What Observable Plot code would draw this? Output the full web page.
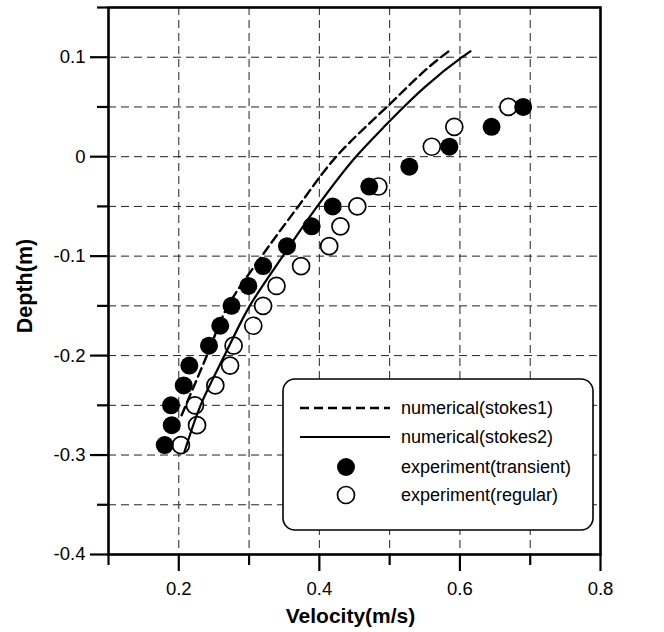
<!DOCTYPE html>
<html>
<head>
<meta charset="utf-8">
<script src="https://cdn.jsdelivr.net/npm/d3@7"></script>
<script src="https://cdn.jsdelivr.net/npm/@observablehq/plot@0.6"></script>
<style>
  html, body { margin: 0; padding: 0; background: white; }
  #chart { width: 664px; height: 632px; }
</style>
</head>
<body>
<div id="chart"></div>
<script>
// ---- data ----
const transientVelocity = [0.69, 0.645, 0.585, 0.528, 0.471, 0.419, 0.389, 0.354, 0.32, 0.299, 0.275, 0.259, 0.243, 0.215, 0.207, 0.189, 0.19, 0.18];
const transientDepth    = [0.05, 0.03, 0.01, -0.01, -0.03, -0.05, -0.07, -0.09, -0.11, -0.13, -0.15, -0.17, -0.19, -0.21, -0.23, -0.25, -0.27, -0.29];

const regularVelocity = [0.669, 0.592, 0.56, 0.484, 0.454, 0.43, 0.414, 0.374, 0.339, 0.32, 0.306, 0.278, 0.273, 0.252, 0.223, 0.226, 0.203];
const regularDepth    = [0.05, 0.03, 0.01, -0.03, -0.05, -0.07, -0.09, -0.11, -0.13, -0.15, -0.17, -0.19, -0.21, -0.23, -0.25, -0.27, -0.29];

const stokes1Velocity = [0.204, 0.210, 0.240, 0.270, 0.318, 0.370, 0.424, 0.496, 0.573, 0.586];
const stokes1Depth    = [-0.26, -0.25, -0.20, -0.15, -0.10, -0.05, 0.00, 0.05, 0.10, 0.107];

const stokes2Velocity = [0.208, 0.231, 0.265, 0.301, 0.348, 0.397, 0.452, 0.492, 0.520, 0.550, 0.603, 0.615];
const stokes2Depth    = [-0.297, -0.25, -0.20, -0.15, -0.10, -0.05, 0.00, 0.03, 0.05, 0.07, 0.10, 0.106];

const xMajorTicks = [0.2, 0.4, 0.6, 0.8];
const xMinorTicks = [0.1, 0.3, 0.5, 0.7];
const xGrid = [0.2, 0.3, 0.4, 0.5, 0.6, 0.7];
const yMajorTicks = [-0.4, -0.3, -0.2, -0.1, 0, 0.1];
const yMinorTicks = [-0.35, -0.25, -0.15, -0.05, 0.05, 0.15];
const yGrid = [-0.35, -0.3, -0.25, -0.2, -0.15, -0.1, -0.05, 0, 0.05, 0.1];

const legendLabels = ["numerical(stokes1)", "numerical(stokes2)", "experiment(transient)", "experiment(regular)"];

// ---- build tables ----
const zip = (xs, ys) => xs.map((x, i) => ({x, y: ys[i]}));
const transient = zip(transientVelocity, transientDepth);
const regular = zip(regularVelocity, regularDepth);
const stokes1 = zip(stokes1Velocity, stokes1Depth);
const stokes2 = zip(stokes2Velocity, stokes2Depth);

const FONT = "'Liberation Sans', Arial, Helvetica, sans-serif";
const fmt = d => String(d);

const plot = Plot.plot({
  width: 664,
  height: 632,
  marginLeft: 108,
  marginRight: 64,
  marginTop: 7,
  marginBottom: 78,
  style: {fontFamily: FONT, fontSize: "18px", color: "black", background: "white", overflow: "visible"},
  x: {domain: [0.1, 0.8], axis: null},
  y: {domain: [-0.4, 0.15], axis: null},
  marks: [
    Plot.ruleX(xGrid, {stroke: "#222", strokeWidth: 1, strokeDasharray: "8,5"}),
    Plot.ruleY(yGrid, {stroke: "#222", strokeWidth: 1, strokeDasharray: "8,5"}),
    Plot.dot(regular, {x: "x", y: "y", r: 8.5, fill: "white", stroke: "black", strokeWidth: 1.7}),
    Plot.dot(transient, {x: "x", y: "y", r: 9, fill: "black", stroke: "none"}),
    Plot.line(stokes1, {x: "x", y: "y", stroke: "black", strokeWidth: 2.4, strokeDasharray: "9,5", curve: "monotone-y"}),
    Plot.line(stokes2, {x: "x", y: "y", stroke: "black", strokeWidth: 2.2, curve: "monotone-y"}),
    Plot.axisX(xMajorTicks, {label: null, tickSize: 17, tickPadding: 10, strokeWidth: 2.2, tickFormat: fmt, fontSize: 18.5, fill: "black"}),
    Plot.axisX(xMinorTicks, {label: null, tickSize: 11, strokeWidth: 2.2, text: null}),
    Plot.axisY(yMajorTicks, {label: null, tickSize: 18, tickPadding: 5, strokeWidth: 2.2, tickFormat: fmt, fontSize: 18.5, fill: "black"}),
    Plot.axisY(yMinorTicks, {label: null, tickSize: 11, strokeWidth: 2.2, text: null}),
    Plot.frame({stroke: "black", strokeWidth: 2.6}),
    Plot.text(["Velocity(m/s)"], {frameAnchor: "bottom", textAnchor: "middle", dx: -4, dy: 68, fontSize: 21, fontWeight: "bold", fill: "black"}),
    Plot.text(["Depth(m)"], {frameAnchor: "left", textAnchor: "middle", rotate: -90, dx: -83, dy: 5, fontSize: 21.5, fontWeight: "bold", fill: "black"})
  ]
});

document.getElementById("chart").appendChild(plot);

// ---- legend ----
const svg = d3.select(plot);
const lg = svg.append("g").attr("font-family", FONT).attr("font-size", 18).attr("fill", "black");
lg.append("rect").attr("x", 283).attr("y", 379).attr("width", 310).attr("height", 151)
  .attr("rx", 12).attr("ry", 12).attr("fill", "white").attr("stroke", "black").attr("stroke-width", 1.6);
const rowY = [408, 437, 467, 495];
lg.append("line").attr("x1", 300).attr("x2", 390).attr("y1", rowY[0]).attr("y2", rowY[0])
  .attr("stroke", "black").attr("stroke-width", 2.4).attr("stroke-dasharray", "9,5");
lg.append("line").attr("x1", 300).attr("x2", 390).attr("y1", rowY[1]).attr("y2", rowY[1])
  .attr("stroke", "black").attr("stroke-width", 2.2);
lg.append("circle").attr("cx", 346).attr("cy", rowY[2]).attr("r", 9).attr("fill", "black");
lg.append("circle").attr("cx", 346).attr("cy", rowY[3]).attr("r", 8.5).attr("fill", "white").attr("stroke", "black").attr("stroke-width", 1.7);
legendLabels.forEach((t, i) => {
  lg.append("text").attr("x", 401).attr("y", rowY[i]).attr("dy", "0.35em")
    .attr("text-anchor", "start").text(t);
});
</script>
</body>
</html>
